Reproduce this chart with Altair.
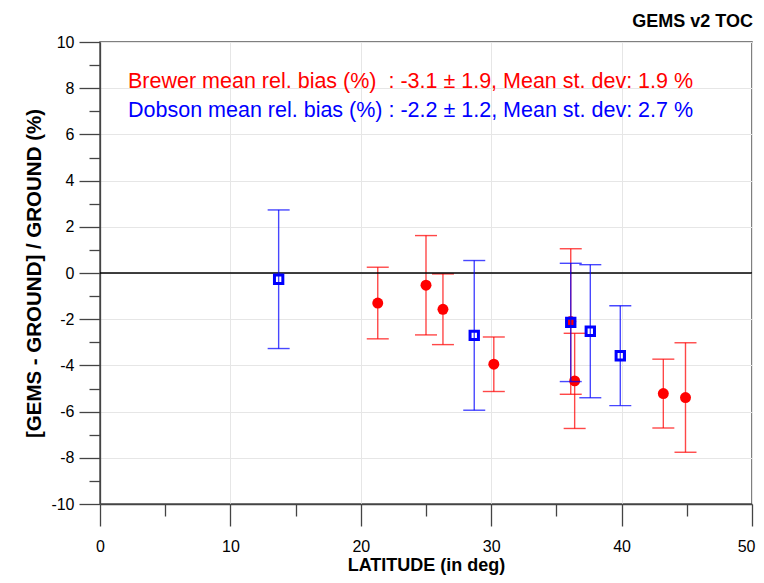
import altair as alt
import pandas as pd

# ---- data ----
brewer_lat = [21.3, 25.0, 26.3, 30.2, 36.1, 36.4, 43.2, 44.9]
brewer_bias = [-1.30, -0.53, -1.57, -3.95, -2.10, -4.67, -5.22, -5.39]
brewer_sd = [1.55, 2.15, 1.53, 1.18, 3.15, 2.06, 1.49, 2.37]

dobson_lat = [13.7, 28.7, 36.1, 37.6, 39.9]
dobson_bias = [-0.27, -2.70, -2.14, -2.52, -3.58]
dobson_sd = [3.00, 3.24, 2.56, 2.88, 2.16]

x_major = [0, 10, 20, 30, 40, 50]
x_minor = [5, 15, 25, 35, 45]
y_major = [-10, -8, -6, -4, -2, 0, 2, 4, 6, 8, 10]
y_minor = [-9, -7, -5, -3, -1, 1, 3, 5, 7, 9]

brewer_label = ["Brewer mean rel. bias (%)\u00a0 : -3.1 \u00b1 1.9, Mean st. dev: 1.9 %"]
dobson_label = ["Dobson mean rel. bias (%) : -2.2 \u00b1 1.2, Mean st. dev: 2.7 %"]
title_text = "GEMS v2 TOC"
x_title = "LATITUDE (in deg)"
y_title = "[GEMS - GROUND] / GROUND (%)"

FONT = "Liberation Sans"
RED = "#ff0000"
BLUE = "#0000ff"

brewer = pd.DataFrame({"lat": brewer_lat, "bias": brewer_bias, "sd": brewer_sd})
brewer["lo"] = brewer["bias"] - brewer["sd"]
brewer["hi"] = brewer["bias"] + brewer["sd"]
dobson = pd.DataFrame({"lat": dobson_lat, "bias": dobson_bias, "sd": dobson_sd})
dobson["lo"] = dobson["bias"] - dobson["sd"]
dobson["hi"] = dobson["bias"] + dobson["sd"]

xscale = alt.Scale(domain=[0, 50], nice=False, zero=False)
yscale = alt.Scale(domain=[-10, 10], nice=False, zero=False)

LABEL_EXPR = "'' + datum.value"

main_x_axis = alt.Axis(values=x_major, tickSize=22, labelFontSize=16, labelPadding=12,
                       labelFlush=False,
                       labelAlign={"condition": {"test": "datum.value >= 50", "value": "right"},
                                   "value": "center"},
                       labelOffset={"condition": {"test": "datum.value >= 50", "value": 3},
                                    "value": 0},
                       grid=True, gridColor="#e6e6e6", title=x_title,
                       titleFontSize=18, titleFontWeight="bold", titlePadding=2,
                       labelFont=FONT, titleFont=FONT, labelExpr=LABEL_EXPR)
main_y_axis = alt.Axis(values=y_major, tickSize=21, labelFontSize=16, labelPadding=5,
                       labelFlush=False, grid=True, gridColor="#e6e6e6", title=y_title,
                       titleFontSize=20.5, titleFontWeight="bold", titlePadding=6,
                       labelFont=FONT, titleFont=FONT, labelExpr=LABEL_EXPR)
minor_x_axis = alt.Axis(values=x_minor, tickSize=12, labels=False, grid=False, domain=False,
                        title=None, orient="bottom")
minor_y_axis = alt.Axis(values=y_minor, tickSize=11, labels=False, grid=False, domain=False,
                        title=None, orient="left")


def xenc(axis=None):
    return alt.X("lat:Q", scale=xscale, axis=axis)


def yenc(field, axis=None):
    return alt.Y(f"{field}:Q", scale=yscale, axis=axis)


def bars(df, color, axes=False):
    base = alt.Chart(df)
    rule = base.mark_rule(color=color, strokeWidth=1.4, opacity=0.72).encode(
        x=xenc(main_x_axis if axes else None),
        y=yenc("lo", main_y_axis if axes else None),
        y2="hi:Q",
    )
    cap_lo = base.mark_tick(color=color, orient="horizontal", size=22, thickness=1.4,
                            opacity=0.72).encode(x=xenc(), y=yenc("lo"))
    cap_hi = base.mark_tick(color=color, orient="horizontal", size=22, thickness=1.4,
                            opacity=0.72).encode(x=xenc(), y=yenc("hi"))
    return [rule, cap_lo, cap_hi]


minor = alt.Chart(brewer).mark_point(opacity=0).encode(
    x=alt.X("lat:Q", scale=xscale, axis=minor_x_axis),
    y=alt.Y("bias:Q", scale=yscale, axis=minor_y_axis),
)

zero = alt.Chart(pd.DataFrame({"z": [0]})).mark_rule(color="black", strokeWidth=1.5).encode(
    y=alt.Y("z:Q", scale=yscale, axis=None)
)

red_dots = alt.Chart(brewer).mark_circle(color=RED, size=120, opacity=1).encode(
    x=xenc(), y=yenc("bias"))
blue_sq = alt.Chart(dobson).mark_square(filled=False, color=BLUE, size=70, strokeWidth=3,
                                        opacity=1).encode(x=xenc(), y=yenc("bias"))

txt_red = alt.Chart(pd.DataFrame({"t": brewer_label})).mark_text(
    align="left", baseline="middle", font=FONT, fontSize=21.5, color=RED
).encode(x=alt.value(28), y=alt.value(40), text="t:N")
txt_blue = alt.Chart(pd.DataFrame({"t": dobson_label})).mark_text(
    align="left", baseline="middle", font=FONT, fontSize=21.5, color=BLUE
).encode(x=alt.value(28), y=alt.value(69), text="t:N")

layers = bars(brewer, RED, axes=True) + [minor, zero, red_dots] + bars(dobson, BLUE) + [
    blue_sq, txt_red, txt_blue]

chart = alt.layer(*layers).resolve_axis(x="independent", y="independent").properties(
    width=652,
    height=462,
    autosize=alt.AutoSizeParams(type="none"),
    padding={"left": 92, "top": 34, "right": 4, "bottom": 71},
    title=alt.TitleParams(title_text, anchor="end", fontSize=18, fontWeight="bold",
                          font=FONT, color="black", offset=3, dx=-2),
).configure_view(stroke="#555", strokeWidth=1.5).configure_axis(
    domainColor="#444", tickColor="#444", labelColor="black", titleColor="black",
    domainWidth=1.3, tickWidth=1.3,
)

chart.save("out.html", embed_options={"renderer": "svg", "actions": False})
